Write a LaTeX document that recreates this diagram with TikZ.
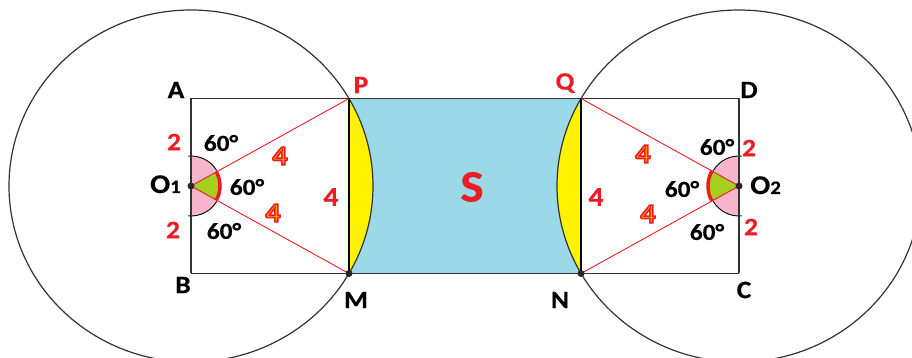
\documentclass[tikz,border=0pt]{standalone}
\usepackage{fontspec}
\setmainfont{Carlito}
\newfontfamily\labfont[FakeStretch=1.1]{Carlito}
\newfontfamily\heavyfont[FakeStretch=1.1, BoldFeatures={FakeBold=0.5}]{Carlito}
\definecolor{tred}{RGB}{236,28,36}
\definecolor{torange}{RGB}{255,165,0}
\definecolor{sblue}{RGB}{155,216,232}
\definecolor{syellow}{RGB}{255,242,0}
\definecolor{spink}{RGB}{248,182,204}
\definecolor{sgreen}{RGB}{166,208,30}
\definecolor{lgray}{RGB}{50,50,50}
\newcommand\outl[1]{{\color{torange}\special{pdf:literal direct 2 Tr 1.6 w 0.925 0.11 0.14 RG}#1\special{pdf:literal direct 0 Tr}}}
\begin{document}
\begin{tikzpicture}[x=1pt,y=1pt,
  lab/.style={font=\heavyfont\bfseries\fontsize{25}{25}\selectfont, inner sep=0pt},
  deg/.style={font=\heavyfont\bfseries\fontsize{23}{23}\selectfont, inner sep=0pt},
  rlab/.style={lab, text=tred},
  big4/.style={font=\labfont\bfseries\fontsize{27}{27}\selectfont, inner sep=0pt},
  edge/.style={draw=lgray, line width=1.4pt},
  chord/.style={draw=black, line width=2.4pt},
  circ/.style={draw=lgray, line width=1.2pt},
  rline/.style={draw=tred, line width=0.9pt},
  dot/.style={circle, fill=black!85, inner sep=0pt, minimum size=7pt}]
\useasboundingbox (0,0) rectangle (912,358);
\clip (0,0) rectangle (912,358);
% points
\coordinate (O1) at (191,172);
\coordinate (O2) at (739,172);
\coordinate (A) at (191,259.5);
\coordinate (B) at (191,84.5);
\coordinate (P) at (349,259.5);
\coordinate (M) at (349,84.5);
\coordinate (Q) at (581,259.5);
\coordinate (N) at (581,84.5);
\coordinate (D) at (739,259.5);
\coordinate (C) at (739,84.5);
% fills
\fill[sblue] (P) rectangle (N);
\fill[syellow] (P) arc[start angle=29.8, end angle=-29.8, x radius=182, y radius=176] -- cycle;
\fill[syellow] (Q) arc[start angle=150.2, end angle=209.8, x radius=182, y radius=176] -- cycle;
% angle marks left
\fill[spink] (O1) ++(90:30) arc[start angle=90, end angle=-90, radius=30] -- cycle;
\fill[sgreen] (O1) -- ++(29:29) arc[start angle=29, end angle=-29, radius=29] -- cycle;
\draw[black, line width=0.9pt] (O1) ++(95:30) arc[start angle=95, end angle=31, radius=30];
\draw[black, line width=0.9pt] (O1) ++(-31:30) arc[start angle=-31, end angle=-95, radius=30];
\draw[tred, line width=3.5pt] (O1) ++(30:29) arc[start angle=30, end angle=-30, radius=29];
% angle marks right
\fill[spink] (O2) ++(90:30) arc[start angle=90, end angle=270, radius=30] -- cycle;
\fill[sgreen] (O2) -- ++(151:30) arc[start angle=151, end angle=209, radius=30] -- cycle;
\draw[black, line width=0.9pt] (O2) ++(85:30) arc[start angle=85, end angle=149, radius=30];
\draw[black, line width=0.9pt] (O2) ++(211:30) arc[start angle=211, end angle=275, radius=30];
\draw[tred, line width=3.5pt] (O2) ++(150:31) arc[start angle=150, end angle=210, radius=31];
% circles
\draw[circ] (O1) ellipse [x radius=182, y radius=176];
\draw[circ] (O2) ellipse [x radius=182, y radius=176];
% rectangles
\draw[edge] (A) -- (D);
\draw[edge] (B) -- (C);
\draw[edge] (A) -- (B);
\draw[edge] (D) -- (C);
\draw[chord] (P) -- (M);
\draw[chord] (Q) -- (N);
% red lines
\draw[rline] (O1) -- (P);
\draw[rline] (O1) -- (M);
\draw[rline] (O2) -- (Q);
\draw[rline] (O2) -- (N);
% dots
\node[dot] (dO1) at (O1) {};
\node[dot] (dO2) at (O2) {};
\node[dot] (dM) at (M) {};
\node[dot] (dN) at (N) {};
% letters
\node[lab] (lA) at (176,268) {A};
\node[rlab] (lP) at (361,273) {P};
\node[lab] (lB) at (183,73) {B};
\node[lab] (lM) at (356,58) {M};
\node[rlab] (lQ) at (565,275) {Q};
\node[lab] (lD) at (749,268) {D};
\node[lab] (lC) at (744,68) {C};
\node[lab] (lN) at (560,58) {N};
\node[lab, font=\heavyfont\bfseries\fontsize{27}{27}\selectfont, anchor=base east] (lO1) at (181,165) {O{\fontsize{19}{19}\selectfont 1}};
\node[lab, font=\heavyfont\bfseries\fontsize{27}{27}\selectfont, anchor=base west] (lO2) at (750,164) {O{\fontsize{19}{19}\selectfont 2}};
% numbers 2
\node[rlab] (t1) at (174,216) {2};
\node[rlab] (t2) at (173,128) {2};
\node[rlab] (t3) at (749,210) {2};
\node[rlab] (t4) at (751,131) {2};
% angles
\node[deg] (a1) at (221,215) {60°};
\node[deg] (a2) at (247,171) {60°};
\node[deg] (a3) at (224,127) {60°};
\node[deg] (a4) at (717,211) {60°};
\node[deg] (a5) at (682,169) {60°};
\node[deg] (a6) at (707,126) {60°};
% fours
\node[big4] (f1) at (280,202) {\outl{4}};
\node[big4] (f2) at (273,145) {\outl{4}};
\node[big4] (f3) at (643,204) {\outl{4}};
\node[big4] (f4) at (648,144) {\outl{4}};
\node[big4, text=tred, font=\heavyfont\bfseries\fontsize{27}{27}\selectfont] (f5) at (331,161) {4};
\node[big4, text=tred, font=\heavyfont\bfseries\fontsize{27}{27}\selectfont] (f6) at (596,161) {4};
% S
\node[font=\heavyfont\bfseries\fontsize{45}{45}\selectfont, text=tred, inner sep=0pt] (S) at (472,171) {S};
\end{tikzpicture}
\end{document}
